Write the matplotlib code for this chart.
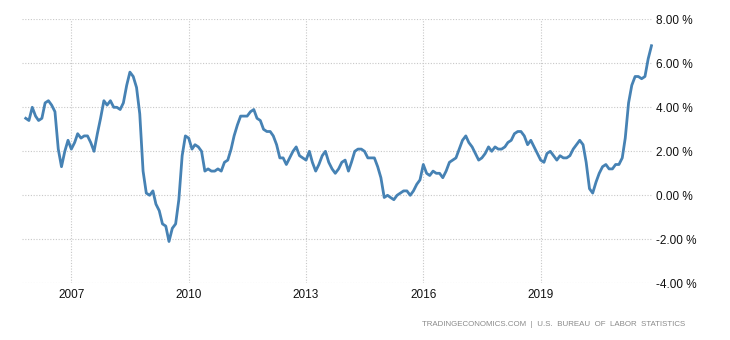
from matplotlib import pyplot as plt
from matplotlib.ticker import FuncFormatter
import matplotlib.dates as mdates
import pandas as pd

# US CPI inflation rate, year over year, %, Nov 2005 .. Nov 2021
inflation = [
    3.5, 3.4,
    4.0, 3.6, 3.4, 3.5, 4.2, 4.3, 4.1, 3.8, 2.1, 1.3, 2.0, 2.5,
    2.1, 2.4, 2.8, 2.6, 2.7, 2.7, 2.4, 2.0, 2.8, 3.5, 4.3, 4.1,
    4.3, 4.0, 4.0, 3.9, 4.2, 5.0, 5.6, 5.4, 4.9, 3.7, 1.1, 0.1,
    0.0, 0.2, -0.4, -0.7, -1.3, -1.4, -2.1, -1.5, -1.3, -0.2, 1.8, 2.7,
    2.6, 2.1, 2.3, 2.2, 2.0, 1.1, 1.2, 1.1, 1.1, 1.2, 1.1, 1.5,
    1.6, 2.1, 2.7, 3.2, 3.6, 3.6, 3.6, 3.8, 3.9, 3.5, 3.4, 3.0,
    2.9, 2.9, 2.7, 2.3, 1.7, 1.7, 1.4, 1.7, 2.0, 2.2, 1.8, 1.7,
    1.6, 2.0, 1.5, 1.1, 1.4, 1.8, 2.0, 1.5, 1.2, 1.0, 1.2, 1.5,
    1.6, 1.1, 1.5, 2.0, 2.1, 2.1, 2.0, 1.7, 1.7, 1.7, 1.3, 0.8,
    -0.1, 0.0, -0.1, -0.2, 0.0, 0.1, 0.2, 0.2, 0.0, 0.2, 0.5, 0.7,
    1.4, 1.0, 0.9, 1.1, 1.0, 1.0, 0.8, 1.1, 1.5, 1.6, 1.7, 2.1,
    2.5, 2.7, 2.4, 2.2, 1.9, 1.6, 1.7, 1.9, 2.2, 2.0, 2.2, 2.1,
    2.1, 2.2, 2.4, 2.5, 2.8, 2.9, 2.9, 2.7, 2.3, 2.5, 2.2, 1.9,
    1.6, 1.5, 1.9, 2.0, 1.8, 1.6, 1.8, 1.7, 1.7, 1.8, 2.1, 2.3,
    2.5, 2.3, 1.5, 0.3, 0.1, 0.6, 1.0, 1.3, 1.4, 1.2, 1.2, 1.4,
    1.4, 1.7, 2.6, 4.2, 5.0, 5.4, 5.4, 5.3, 5.4, 6.2, 6.8,
]
dates = pd.date_range('2005-11-01', periods=len(inflation), freq='MS')

year_ticks = ['2007', '2010', '2013', '2016', '2019']
y_ticks = [-4, -2, 0, 2, 4, 6, 8]

plt.rcParams['font.family'] = ['Liberation Sans', 'DejaVu Sans']

fig = plt.figure(figsize=(7.3, 3.4), dpi=100)
ax = fig.add_axes([0.0301, 0.1668, 0.8644, 0.7764])

ax.plot(dates, inflation, color='#4682b4', linewidth=2.0, solid_joinstyle='round')

ax.set_xlim(pd.Timestamp('2005-09-27'), pd.Timestamp('2021-11-15'))
ax.set_ylim(-4, 8)
ax.set_xticks([pd.Timestamp(y + '-01-01') for y in year_ticks])
ax.xaxis.set_major_formatter(mdates.DateFormatter('%Y'))
ax.set_yticks(y_ticks)
ax.yaxis.set_major_formatter(FuncFormatter(lambda v, _: f'{v:.2f} %'))

ax.yaxis.tick_right()
ax.tick_params(axis='both', length=0, labelsize=8.5, colors='#111111')
ax.tick_params(axis='y', pad=2.5)
ax.tick_params(axis='x', pad=4)

ax.grid(True, color='#c8c8c8', linestyle=(0, (1, 1.5)), linewidth=0.8)
ax.set_axisbelow(True)
for side in ax.spines.values():
    side.set_visible(False)

fig.text(0.9384, 0.046, 'TRADINGECONOMICS.COM  |  U.S.  BUREAU  OF  LABOR  STATISTICS',
         ha='right', va='center', fontsize=5.7, color='#8a8a8a')

plt.savefig('out.png', dpi=100)
